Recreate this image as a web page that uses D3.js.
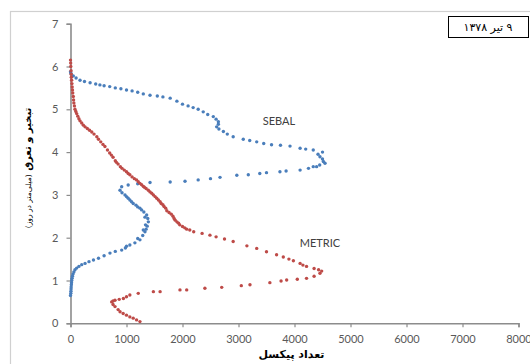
<!DOCTYPE html>
<html>
<head>
<meta charset="utf-8">
<script src="https://cdn.jsdelivr.net/npm/d3@7"></script>
<style>
  body { margin: 0; background: #fff; }
  svg { display: block; }
</style>
</head>
<body>
<div class="chart"></div>
<script>
// data: [pixel count, ET mm/day]
const sebal = [
  [0,0.65],[5,0.7],[8,0.75],[10,0.8],[12,0.85],[15,0.9],[18,0.95],[22,1.0],[28,1.05],[35,1.1],
  [45,1.15],[60,1.2],[80,1.25],[110,1.29],[150,1.33],[200,1.37],[260,1.4],[330,1.44],[410,1.48],
  [500,1.52],[600,1.58],[705,1.64],[800,1.68],[914,1.71],[980,1.76],[1000,1.8],[1060,1.83],
  [1150,1.88],[1240,1.95],[1200,1.98],[1290,2.05],[1330,2.14],[1300,2.18],[1350,2.2],[1370,2.27],
  [1340,2.3],[1390,2.37],[1380,2.45],[1330,2.48],[1360,2.53],[1310,2.6],[1270,2.65],[1240,2.69],
  [1200,2.72],[1170,2.76],[1120,2.8],[1090,2.84],[1060,2.88],[1030,2.92],[1000,2.96],
  [973,3.0],[920,3.05],[884,3.11],[914,3.19],[1030,3.23],[1200,3.26],[1420,3.29],[1780,3.3],
  [2045,3.32],[2280,3.35],[2500,3.38],[2670,3.41],[2970,3.46],[3175,3.47],[3380,3.5],[3500,3.52],
  [3740,3.54],[3850,3.56],[4100,3.58],[4250,3.62],[4335,3.66],[4395,3.66],[4450,3.7],[4515,3.78],
  [4545,3.74],[4500,3.84],[4455,3.89],[4420,3.95],[4500,4.0],[4335,4.05],[4200,4.07],[4100,4.09],
  [3920,4.14],[3750,4.16],[3590,4.17],[3450,4.2],[3325,4.24],[3200,4.27],[3085,4.3],[2905,4.36],
  [2800,4.42],[2730,4.48],[2650,4.54],[2610,4.59],[2640,4.65],[2640,4.71],[2600,4.77],[2550,4.83],
  [2450,4.88],[2370,4.94],[2280,5.0],[2190,5.04],[2100,5.08],[2000,5.12],[1900,5.19],[1780,5.26],
  [1650,5.29],[1550,5.31],[1420,5.33],[1300,5.36],[1200,5.4],[1100,5.43],[1000,5.45],[900,5.48],
  [800,5.5],[700,5.53],[600,5.55],[525,5.57],[450,5.59],[350,5.62],[250,5.65],[170,5.68],
  [100,5.73],[50,5.78],[10,5.84],[0,5.88]
];
const metric = [
  [1240,0.04],[1180,0.08],[1120,0.12],[1060,0.15],[1000,0.19],[940,0.23],[885,0.27],[850,0.32],
  [795,0.39],[760,0.44],[735,0.5],[760,0.52],[795,0.54],[870,0.56],[945,0.58],[1000,0.62],
  [1060,0.66],[1210,0.7],[1480,0.74],[1600,0.74],[1955,0.78],[2075,0.78],[2400,0.82],[2700,0.84],
  [3050,0.88],[3205,0.9],[3560,0.95],[3760,0.99],[3860,1.01],[4050,1.03],[4215,1.05],[4350,1.1],
  [4455,1.17],[4485,1.22],[4430,1.25],[4350,1.28],[4215,1.33],[4150,1.36],[4100,1.4],[3980,1.46],
  [3900,1.5],[3800,1.55],[3680,1.6],[3500,1.67],[3325,1.75],[3150,1.81],[2905,1.91],[2750,1.97],
  [2600,2.02],[2490,2.06],[2350,2.1],[2200,2.14],[2130,2.18],[2075,2.2],[2040,2.23],[2000,2.26],
  [1950,2.3],[1930,2.34],[1900,2.37],[1870,2.41],[1850,2.45],[1830,2.5],[1800,2.55],[1760,2.59],
  [1720,2.63],[1700,2.69],[1670,2.73],[1650,2.77],[1620,2.8],[1600,2.84],[1570,2.88],[1540,2.92],
  [1510,2.96],[1480,3.0],[1450,3.04],[1420,3.07],[1390,3.11],[1350,3.15],[1320,3.18],[1300,3.2],
  [1270,3.24],[1240,3.27],[1210,3.31],[1180,3.35],[1140,3.38],[1100,3.42],[1060,3.47],[1030,3.5],
  [1000,3.54],[960,3.58],[920,3.62],[890,3.66],[850,3.72],[820,3.76],[800,3.8],[760,3.88],
  [730,3.93],[700,3.98],[660,4.05],[615,4.13],[580,4.18],[540,4.24],[500,4.3],[470,4.36],
  [420,4.42],[380,4.47],[340,4.51],[300,4.55],[260,4.59],[230,4.63],[200,4.68],[170,4.73],
  [150,4.78],[130,4.84],[110,4.9],[95,4.95],[80,5.0],[70,5.08],[60,5.15],[55,5.22],[50,5.3],
  [40,5.38],[35,5.45],[30,5.52],[25,5.6],[20,5.68],[15,5.75],[12,5.82],[10,5.9],[5,6.0],
  [3,6.08],[0,6.15]
];
const xTicks = [0,1000,2000,3000,4000,5000,6000,7000,8000];
const yTicks = [0,1,2,3,4,5,6,7];

const W = 530, H = 364;
const svg = d3.select(".chart").append("svg")
  .attr("width", W).attr("height", H)
  .style("font-family", "Lato, 'Open Sans', sans-serif");

// outer chart frame
svg.append("rect")
  .attr("x", 10.5).attr("y", 11.5).attr("width", 530).attr("height", 360)
  .attr("fill", "#fff").attr("stroke", "#d0d0d0").attr("stroke-width", 1.2);

const xScale = d3.scaleLinear().domain([0, 8000]).range([70.5, 518.5]);
const yScale = d3.scaleLinear().domain([0, 7]).range([323.3, 23.7]);

const gx = svg.append("g").attr("transform", "translate(0," + yScale(0) + ")")
  .call(d3.axisBottom(xScale).tickValues(xTicks).tickSize(4).tickPadding(8).tickFormat(d3.format("d")));
const gy = svg.append("g").attr("transform", "translate(" + xScale(0) + ",0)")
  .call(d3.axisLeft(yScale).tickValues(yTicks).tickSize(4).tickPadding(8).tickFormat(d3.format("d")));

[gx, gy].forEach(g => {
  g.select(".domain").attr("stroke", "#8c8c8c").attr("stroke-width", 1.6);
  g.selectAll(".tick line").attr("stroke", "#8c8c8c").attr("stroke-width", 1.2);
  g.selectAll(".tick text").attr("fill", "#595959").style("font-size", "11px")
    .style("font-family", "Lato, 'Open Sans', sans-serif");
});

// series markers
function drawSeries(data, color) {
  svg.append("g").selectAll("circle")
    .data(data).enter().append("circle")
    .attr("cx", d => xScale(d[0]))
    .attr("cy", d => yScale(d[1]))
    .attr("r", 1.7)
    .attr("fill", color);
}
drawSeries(sebal, "#4a7ebb");
drawSeries(metric, "#be4b48");

// series labels
svg.append("text").attr("x", 279).attr("y", 125).attr("text-anchor", "middle")
  .attr("fill", "#404040").style("font-size", "11px").text("SEBAL");
svg.append("text").attr("x", 320).attr("y", 247).attr("text-anchor", "middle")
  .attr("fill", "#404040").style("font-size", "11px").text("METRIC");

// date box
svg.append("rect").attr("x", 448.5).attr("y", 16.5).attr("width", 80).attr("height", 21)
  .attr("fill", "#fff").attr("stroke", "#000").attr("stroke-width", 1);
svg.append("text").attr("x", 488).attr("y", 31).attr("text-anchor", "middle")
  .attr("direction", "rtl")
  .style("font-family", "'DejaVu Sans', sans-serif").style("font-size", "11px")
  .attr("fill", "#000").text("۹ تیر ۱۳۷۸");

// axis titles
svg.append("text").attr("x", xScale(4000) - 3).attr("y", 358).attr("text-anchor", "middle")
  .attr("direction", "rtl")
  .style("font-family", "'DejaVu Sans', sans-serif").style("font-size", "11px")
  .style("font-weight", "bold").attr("fill", "#000").text("تعداد پیکسل");

const yt = svg.append("text")
  .attr("transform", "translate(31,168) rotate(-90)")
  .attr("text-anchor", "middle").attr("direction", "rtl")
  .style("font-family", "'DejaVu Sans', sans-serif").attr("fill", "#000");
yt.append("tspan").style("font-size", "10px").style("font-weight", "bold").text("تبخیر و تعرق ");
yt.append("tspan").style("font-size", "7.5px").text("(میلی‌متر در روز)");
</script>
</body>
</html>
